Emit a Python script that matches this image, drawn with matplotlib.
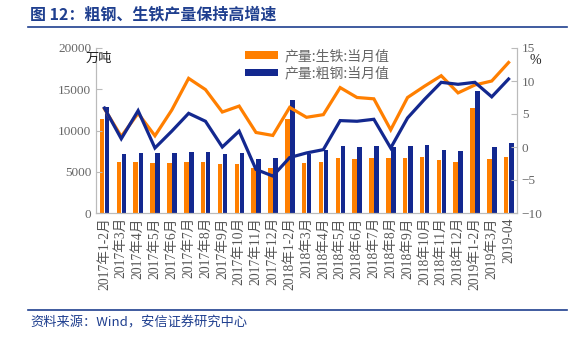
import matplotlib
matplotlib.use("Agg")
import matplotlib.pyplot as plt
from matplotlib.lines import Line2D
import numpy as np

# 类别（月份）
months = ["2017年1-2月", "2017年3月", "2017年4月", "2017年5月", "2017年6月",
          "2017年7月", "2017年8月", "2017年9月", "2017年10月", "2017年11月",
          "2017年12月", "2018年1-2月", "2018年3月", "2018年4月", "2018年5月",
          "2018年6月", "2018年7月", "2018年8月", "2018年9月", "2018年10月",
          "2018年11月", "2018年12月", "2019年1-2月", "2019年3月", "2019-04"]

# 产量 当月值（万吨）
iron = [11400, 6220, 6220, 6060, 6060, 6220, 6220, 5940, 5940, 5500,
        5500, 11350, 6060, 6220, 6630, 6500, 6630, 6630, 6630, 6790,
        6380, 6220, 12690, 6500, 6790]
steel = [12850, 7110, 7230, 7230, 7230, 7390, 7390, 7110, 7230, 6500,
         6630, 13700, 7110, 7640, 8120, 7960, 8120, 7960, 8120, 8240,
         7680, 7550, 14830, 7960, 8450]

# 同比增速（%）
iron_yoy = [5.8, 1.6, 5.1, 1.7, 5.6, 10.4, 8.7, 5.3, 6.2, 2.2,
            1.75, 6.0, 4.5, 4.9, 9.0, 7.5, 7.3, 2.6, 7.5, 9.2,
            10.8, 8.2, 9.4, 10.0, 12.8]
steel_yoy = [5.9, 1.25, 5.5, -0.15, 2.4, 5.1, 3.9, 0.0, 2.4, -3.4,
             -4.4, -1.6, -0.9, -0.4, 4.0, 3.9, 4.2, -0.15, 4.4, 7.2,
             9.8, 9.5, 9.8, 7.6, 10.3]

orange = "#FF7F00"
blue = "#13288F"
grey = "#666666"
serif_cjk = ["Liberation Serif", "Noto Sans CJK SC"]

fig = plt.figure(figsize=(5.82, 3.40), dpi=100)
ax = fig.add_axes([96 / 582, 1 - 213 / 340, 421 / 582, 165 / 340])
ax2 = ax.twinx()

x = np.arange(len(months))
w = 0.27
b1 = ax.bar(x - 0.14, iron, w, color=orange, label="产量:生铁:当月值")
b2 = ax.bar(x + 0.16, steel, w, color=blue, label="产量:粗钢:当月值")

ax2.plot(x, iron_yoy, color=orange, lw=2.3, solid_joinstyle="miter")
ax2.plot(x, steel_yoy, color=blue, lw=2.3, solid_joinstyle="miter")

ax.set_xlim(-0.5, len(months) - 0.5)
ax.set_ylim(0, 20000)
ax2.set_ylim(-10, 15)
ax.set_yticks([0, 5000, 10000, 15000, 20000])
ax2.set_yticks([-10, -5, 0, 5, 10, 15])

ax.set_xticks(x)
ax.set_xticklabels(months, rotation=90, family=serif_cjk, fontsize=9.8, color="#555555")
for a in (ax, ax2):
    for sp in a.spines.values():
        sp.set_color("#BBBBBB")
    a.spines["top"].set_visible(False)
    a.tick_params(axis="y", direction="in", length=4, colors="#BBBBBB",
                  labelcolor=grey, labelsize=9.5)
    for t in a.get_yticklabels():
        t.set_family("Liberation Serif")
ax.tick_params(axis="x", length=0, pad=3)

# 单位
fig.text(86 / 582, 1 - 58 / 340, "万吨", fontsize=9.5, family="Noto Sans CJK SC",
         color="#222222", va="center")
fig.text(529 / 582, 1 - 60 / 340, "%", fontsize=10, family="Liberation Serif",
         color="#222222", va="center")

leg = ax.legend(handles=[b1, b2], loc="upper left",
                bbox_to_anchor=(136 / 421, 1.07), frameon=False,
                prop={"family": "Noto Sans CJK SC", "size": 10},
                handlelength=2.4, handleheight=0.5, handletextpad=0.5,
                labelspacing=0.25)
for t in leg.get_texts():
    t.set_color(grey)

# 标题与来源
fig.text(30 / 582, 1 - 14 / 340, "图 12：粗钢、生铁产量保持高增速", fontsize=11.5,
         fontweight="bold", color="#1F3F8F", family="Noto Sans CJK SC", va="center")
fig.add_artist(Line2D([28 / 582, 567 / 582], [1 - 27 / 340, 1 - 27 / 340],
                      color="#1F3F8F", lw=1.2))
fig.add_artist(Line2D([28 / 582, 567 / 582], [1 - 310 / 340, 1 - 310 / 340],
                      color="#1F3F8F", lw=1.2))
fig.text(30 / 582, 1 - 323 / 340, "资料来源：Wind，安信证券研究中心", fontsize=9.5,
         style="italic", color="#1F3F8F", family="Noto Sans CJK SC", va="center")

fig.savefig("out.png", dpi=100)
